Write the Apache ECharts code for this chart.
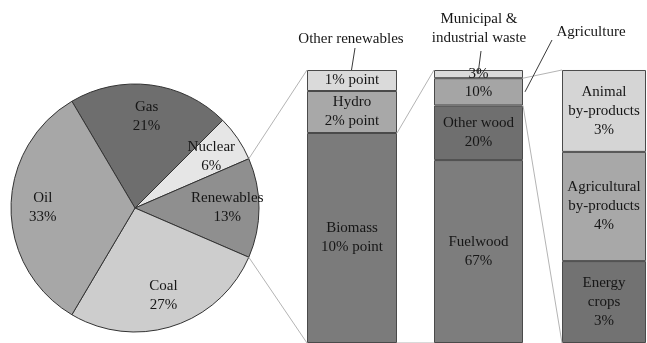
<!DOCTYPE html>
<html><head><meta charset="utf-8">
<script src="https://cdn.jsdelivr.net/npm/echarts@6/dist/echarts.min.js"></script>
<style>html,body{margin:0;padding:0;background:#fff}#c{width:647px;height:343px}</style>
</head><body><div id="c"></div><script>
// ---- data ----
const pieNames = ['Gas', 'Nuclear', 'Renewables', 'Coal', 'Oil'];
const pieValues = [21, 6, 13, 27, 33];
const pieLabels = ['Gas\n21%', 'Nuclear\n6%', 'Renewables\n13%', 'Coal\n27%', 'Oil\n33%'];

const renewNames = ['Biomass', 'Hydro', 'Other renewables'];
const renewValues = [10, 2, 1];
const renewLabels = ['Biomass\n10% point', 'Hydro\n2% point', '1% point'];

const biomassNames = ['Fuelwood', 'Other wood', 'Agriculture', 'Municipal & industrial waste'];
const biomassValues = [67, 20, 10, 3];
const biomassLabels = ['Fuelwood\n67%', 'Other wood\n20%', '10%', '3%'];

const agriNames = ['Energy crops', 'Agricultural by-products', 'Animal by-products'];
const agriValues = [3, 4, 3];
const agriLabels = ['Energy\ncrops\n3%', 'Agricultural\nby-products\n4%', 'Animal\nby-products\n3%'];

// ---- style ----
const FONT = 'Liberation Serif';
const pieColors = ['#6e6e6e', '#e6e6e6', '#8f8f8f', '#cdcdcd', '#a7a7a7'];
const renewColors = ['#7b7b7b', '#a8a8a8', '#dadada'];
const biomassColors = ['#7d7d7d', '#6f6f6f', '#a5a5a5', '#dadada'];
const agriColors = ['#727272', '#a8a8a8', '#d5d5d5'];

const PIE_C = [135, 208], PIE_R = 124, START = 120.6;
const grids = [
  {left: 307, top: 70, width: 90, height: 273},
  {left: 434, top: 70, width: 89, height: 273},
  {left: 562, top: 70, width: 84, height: 273}
];

const chart = echarts.init(document.getElementById('c'), null, {renderer: 'canvas'});
const sum = a => a.reduce((s, v) => s + v, 0);

function barSeries(gi, names, values, labels, colors) {
  return names.map((n, i) => ({
    type: 'bar', name: n, stack: 's' + gi, xAxisIndex: gi, yAxisIndex: gi,
    barWidth: '100%', barCategoryGap: 0, silent: true,
    data: [values[i]],
    itemStyle: {color: colors[i], borderColor: '#4a4a4a', borderWidth: 1},
    label: {show: true, position: 'inside', formatter: labels[i], fontFamily: FONT,
      fontSize: 15, lineHeight: 19, color: '#161616'}
  }));
}

const pieData = pieNames.map((n, i) => ({name: n, value: pieValues[i], itemStyle: {color: pieColors[i]}}));

const option = {
  animation: false,
  backgroundColor: '#fff',
  grid: grids.map(g => Object.assign({}, g, {containLabel: false})),
  xAxis: grids.map((g, i) => ({type: 'category', gridIndex: i, data: [''], show: false})),
  yAxis: [renewValues, biomassValues, agriValues].map((v, i) => ({type: 'value', gridIndex: i, min: 0, max: sum(v), show: false})),
  series: [
    {type: 'pie', center: PIE_C, radius: PIE_R, startAngle: START, clockwise: true, silent: true,
      avoidLabelOverlap: false, label: {show: false}, labelLine: {show: false},
      itemStyle: {borderColor: '#333', borderWidth: 1}, data: pieData},
    {type: 'pie', center: PIE_C, radius: [0, PIE_R * 1.44], startAngle: START, clockwise: true, silent: true,
      avoidLabelOverlap: false, labelLine: {show: false}, z: 5,
      itemStyle: {color: 'rgba(0,0,0,0)', borderWidth: 0},
      label: {show: true, position: 'inside', fontFamily: FONT, fontSize: 15, lineHeight: 19, color: '#161616',
        formatter: p => pieLabels[p.dataIndex]},
      data: pieNames.map((n, i) => ({name: n, value: pieValues[i]}))},
    ...barSeries(0, renewNames, renewValues, renewLabels, renewColors),
    ...barSeries(1, biomassNames, biomassValues, biomassLabels, biomassColors),
    ...barSeries(2, agriNames, agriValues, agriLabels, agriColors)
  ]
};
chart.setOption(option);

// ---- connector lines derived from data ----
function pieBoundary(k) { // angle after k slices
  const ang = (START - sum(pieValues.slice(0, k)) / sum(pieValues) * 360) * Math.PI / 180;
  return [PIE_C[0] + PIE_R * Math.cos(ang), PIE_C[1] - PIE_R * Math.sin(ang)];
}
const py = (gi, v) => chart.convertToPixel({yAxisIndex: gi}, v);
const ri = pieNames.indexOf('Renewables');
const pTop = pieBoundary(ri), pBot = pieBoundary(ri + 1);
const g0 = grids[0], g1 = grids[1], g2 = grids[2];
const bioTop = py(0, renewValues[0]);
const agIdx = biomassNames.indexOf('Agriculture');
const agLow = sum(biomassValues.slice(0, agIdx)), agHigh = agLow + biomassValues[agIdx];
const otherTop = py(0, sum(renewValues));
const mswMid = py(1, sum(biomassValues) - biomassValues[3] / 2);
const agMid = py(1, (agLow + agHigh) / 2);

const light = {stroke: '#b4b4b4', lineWidth: 1};
const dark = {stroke: '#3a3a3a', lineWidth: 1};
const line = (x1, y1, x2, y2, st) => ({type: 'line', silent: true, z: 10, shape: {x1, y1, x2, y2}, style: st});
const txt = (x, y, t) => ({type: 'text', silent: true, z: 10, x, y,
  style: {text: t, font: '15px "' + FONT + '"', fill: '#161616', textAlign: 'center', textVerticalAlign: 'middle', lineHeight: 19}});

chart.setOption({graphic: [
  line(pTop[0], pTop[1], g0.left, py(0, sum(renewValues)), light),
  line(pBot[0], pBot[1], g0.left, py(0, 0), light),
  line(g0.left + g0.width, bioTop, g1.left, py(1, sum(biomassValues)), light),
  line(g0.left + g0.width, py(0, 0), g1.left, py(1, 0), light),
  line(g1.left + g1.width, py(1, agHigh), g2.left, py(2, sum(agriValues)), light),
  line(g1.left + g1.width, py(1, agLow), g2.left, py(2, 0), light),
  // leader lines
  line(355, 48, g0.left + g0.width / 2 - 0.5, otherTop, dark),
  line(481, 51, 478, mswMid, dark),
  line(552, 40, g1.left + g1.width + 2, agMid, dark),
  txt(351, 39, 'Other renewables'),
  txt(479, 29, 'Municipal &\nindustrial waste'),
  txt(591, 32, 'Agriculture')
]});
</script></body></html>
